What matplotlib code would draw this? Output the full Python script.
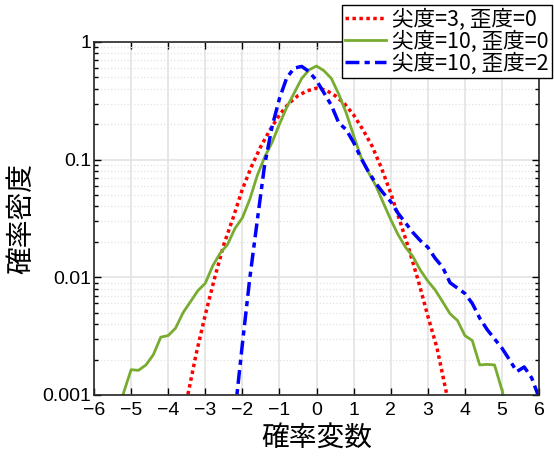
import numpy as np
import matplotlib
matplotlib.use("Agg")
import matplotlib.pyplot as plt
from matplotlib.ticker import LogLocator, NullFormatter, FixedLocator

plt.rcParams['font.family'] = ['Liberation Sans', 'Noto Sans CJK JP', 'DejaVu Sans']

# kurtosis=3, skewness=0
x_red = [-3.75, -3.5, -3.25, -3.0, -2.75, -2.5, -2.25, -2.0, -1.75, -1.5, -1.25, -1.0,
         -0.75, -0.5, -0.25, 0.0, 0.25, 0.5, 0.75, 1.0, 1.25, 1.5, 1.75, 2.0, 2.25,
         2.5, 2.75, 3.0, 3.25, 3.5, 3.75]
y_red = [0.0004, 0.0009, 0.0022, 0.0048, 0.0098, 0.019, 0.032, 0.056, 0.088, 0.13, 0.18, 0.24,
         0.30, 0.35, 0.385, 0.405, 0.39, 0.35, 0.30, 0.24, 0.18, 0.13, 0.085, 0.052, 0.030,
         0.017, 0.0092, 0.0047, 0.0025, 0.00105, 0.0004]

# kurtosis=10, skewness=0
x_green = [-5.4, -5.2, -5.0, -4.8, -4.6, -4.4, -4.2, -4.0, -3.8, -3.6, -3.4, -3.2, -3.0,
           -2.8, -2.6, -2.4, -2.2, -2.0, -1.8, -1.6, -1.4, -1.2, -1.0, -0.8, -0.6, -0.4,
           -0.2, 0.0, 0.2, 0.4, 0.6, 0.8, 1.0, 1.2, 1.4, 1.6, 1.8, 2.0, 2.2, 2.4, 2.6,
           2.8, 3.0, 3.2, 3.4, 3.6, 3.8, 4.0, 4.2, 4.4, 4.6, 4.8, 5.0, 5.2]
y_green = [0.0005, 0.00105, 0.00164, 0.00162, 0.0018, 0.0022, 0.0031, 0.0032, 0.0037, 0.0050,
           0.0062, 0.0077, 0.0089, 0.0125, 0.016, 0.019, 0.026, 0.032, 0.046, 0.073, 0.105,
           0.14, 0.20, 0.28, 0.37, 0.49, 0.58, 0.625, 0.57, 0.49, 0.36, 0.25, 0.16, 0.105,
           0.078, 0.06, 0.043, 0.031, 0.023, 0.018, 0.015, 0.0115, 0.0093, 0.0078, 0.0062,
           0.0049, 0.0043, 0.0032, 0.0029, 0.0018, 0.00182, 0.0018, 0.0011, 0.0006]

# kurtosis=10, skewness=2
x_blue = [-2.2, -2.0, -1.8, -1.6, -1.4, -1.2, -1.0, -0.8, -0.6, -0.4, -0.2, 0.0, 0.2, 0.4,
          0.6, 0.8, 1.0, 1.2, 1.4, 1.6, 1.8, 2.0, 2.2, 2.4, 2.6, 2.8, 3.0, 3.2, 3.4, 3.6,
          3.8, 4.0, 4.2, 4.4, 4.6, 4.8, 5.0, 5.2, 5.4, 5.6, 5.8, 6.0]
y_blue = [0.0007, 0.0027, 0.0098, 0.03, 0.09, 0.19, 0.33, 0.50, 0.60, 0.62, 0.56, 0.47, 0.37,
          0.29, 0.205, 0.18, 0.14, 0.103, 0.079, 0.063, 0.052, 0.044, 0.035, 0.029, 0.024,
          0.0205, 0.018, 0.0145, 0.0122, 0.0090, 0.0081, 0.0073, 0.0060, 0.0045, 0.0036,
          0.0030, 0.0025, 0.0020, 0.00158, 0.00173, 0.0014, 0.00095]

labels = ['尖度=3, 歪度=0', '尖度=10, 歪度=0', '尖度=10, 歪度=2']
xticks = list(range(-6, 7))

fig = plt.figure(figsize=(5.54, 4.58), dpi=100)
ax = fig.add_axes([0.1697, 0.1376, 0.8033, 0.7707])

ax.plot(x_red, y_red, color='#ff0000', linestyle=(0, (1, 1)), linewidth=2.5, label=labels[0])
ax.plot(x_green, y_green, color='#77ac30', linestyle='-', linewidth=2, label=labels[1])
ax.plot(x_blue, y_blue, color='#0000ff', linestyle=(0, (4, 1.5, 1.5, 1.5)), linewidth=2.5, label=labels[2])

ax.set_yscale('log')
ax.set_xlim(-6, 6)
ax.set_ylim(0.001, 1)
ax.xaxis.set_major_locator(FixedLocator(xticks))
ax.set_yticks([0.001, 0.01, 0.1, 1])
ax.set_yticklabels(['0.001', '0.01', '0.1', '1'])
ax.yaxis.set_minor_locator(LogLocator(base=10, subs=np.arange(2, 10)))
ax.yaxis.set_minor_formatter(NullFormatter())

ax.grid(True, which='major', color='#e3e3e3', linewidth=1.2)
ax.grid(True, which='minor', axis='y', color='#e3e3e3', linestyle=':', linewidth=0.9)
ax.set_axisbelow(True)

ax.tick_params(which='both', direction='in', top=True, right=True, labelsize=14, width=1)
ax.tick_params(which='major', length=5)
ax.tick_params(which='minor', length=3)
ax.tick_params(axis='x', pad=5)
ax.tick_params(axis='y', pad=2)
for s in ax.spines.values():
    s.set_linewidth(1.2)
    s.set_color('#262626')

ax.set_xlabel('確率変数', fontsize=20, family=['Noto Sans CJK JP'], labelpad=3)
ax.set_ylabel('確率密度', fontsize=20, family=['Noto Sans CJK JP'], labelpad=4)

leg = ax.legend(loc='upper right', bbox_to_anchor=(0.9964, 0.989), bbox_transform=fig.transFigure,
                prop={'family': ['Noto Sans CJK JP'], 'size': 15.5}, frameon=True, fancybox=False,
                handlelength=1.9, handletextpad=0.3, borderpad=0.15, labelspacing=0.0,
                borderaxespad=0)
leg.get_frame().set_edgecolor('black')
leg.get_frame().set_linewidth(1)
leg.get_frame().set_alpha(1)

fig.savefig('out.png', dpi=100)
